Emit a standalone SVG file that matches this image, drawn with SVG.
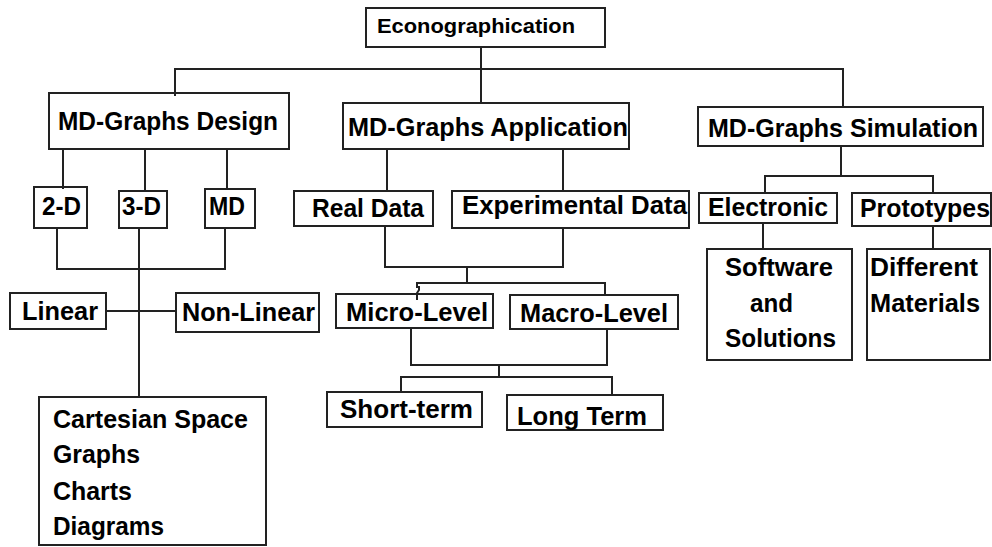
<svg xmlns="http://www.w3.org/2000/svg" width="992" height="547" viewBox="0 0 992 547">
<style>
rect{fill:#fff;stroke:#222;stroke-width:2}
.c line,.c path{stroke:#222;stroke-width:2;stroke-linecap:square;fill:none}
text{font-family:"Liberation Sans",Arial,sans-serif;font-weight:bold;font-size:25.5px;fill:#000}
.s{font-size:20.5px}
.m{font-size:26.5px}
</style>
<rect x="0" y="0" width="992" height="547" style="stroke:none"/>
<g id="econographication"><rect x="366" y="8" width="239" height="39"/><text class="s" x="377" y="33" textLength="198" lengthAdjust="spacingAndGlyphs">Econographication</text></g>
<g id="design"><rect x="49" y="93" width="240" height="56"/><text x="58" y="130" textLength="220" lengthAdjust="spacingAndGlyphs">MD-Graphs Design</text></g>
<g id="application"><rect x="343" y="103" width="286" height="46"/><text class="m" x="348" y="136" textLength="280" lengthAdjust="spacingAndGlyphs">MD-Graphs Application</text></g>
<g id="simulation"><rect x="698" y="107" width="285" height="39"/><text class="m" x="708" y="137" textLength="270" lengthAdjust="spacingAndGlyphs">MD-Graphs Simulation</text></g>
<g id="d2"><rect x="34" y="187" width="53" height="41"/><text x="42" y="215" textLength="39" lengthAdjust="spacingAndGlyphs">2-D</text></g>
<g id="d3"><rect x="119" y="191" width="48" height="37"/><text x="122" y="215" textLength="39" lengthAdjust="spacingAndGlyphs">3-D</text></g>
<g id="md"><rect x="205" y="189" width="50" height="39"/><text x="209" y="215" textLength="36" lengthAdjust="spacingAndGlyphs">MD</text></g>
<g id="realdata"><rect x="294" y="191" width="139" height="35"/><text x="312" y="217" textLength="112" lengthAdjust="spacingAndGlyphs">Real Data</text></g>
<g id="experimental"><rect x="452" y="191" width="237" height="37"/><text x="462" y="214" textLength="225" lengthAdjust="spacingAndGlyphs">Experimental Data</text></g>
<g id="electronic"><rect x="699" y="193" width="138" height="30"/><text x="708" y="216" textLength="120" lengthAdjust="spacingAndGlyphs">Electronic</text></g>
<g id="prototypes"><rect x="852" y="193" width="139" height="33"/><text x="860" y="217" textLength="130" lengthAdjust="spacingAndGlyphs">Prototypes</text></g>
<g id="software"><rect x="707" y="249" width="145" height="111"/><text x="725" y="276" textLength="108" lengthAdjust="spacingAndGlyphs">Software</text><text x="750" y="312" textLength="43" lengthAdjust="spacingAndGlyphs">and</text><text x="725" y="347" textLength="111" lengthAdjust="spacingAndGlyphs">Solutions</text></g>
<g id="materials"><rect x="867" y="249" width="123" height="111"/><text x="870" y="276" textLength="108" lengthAdjust="spacingAndGlyphs">Different</text><text x="870" y="312" textLength="110" lengthAdjust="spacingAndGlyphs">Materials</text></g>
<g id="linear"><rect x="10" y="293" width="96" height="36"/><text x="22" y="320" textLength="76" lengthAdjust="spacingAndGlyphs">Linear</text></g>
<g id="nonlinear"><rect x="176" y="293" width="143" height="39"/><text x="182" y="321" textLength="133" lengthAdjust="spacingAndGlyphs">Non-Linear</text></g>
<g id="micro"><rect x="336" y="294" width="157" height="34"/><text x="346" y="321" textLength="142" lengthAdjust="spacingAndGlyphs">Micro-Level</text></g>
<g id="macro"><rect x="510" y="295" width="168" height="34"/><text x="520" y="322" textLength="148" lengthAdjust="spacingAndGlyphs">Macro-Level</text></g>
<g id="shortterm"><rect x="327" y="392" width="155" height="35"/><text x="340" y="418" textLength="133" lengthAdjust="spacingAndGlyphs">Short-term</text></g>
<g id="longterm"><rect x="507" y="395" width="156" height="35"/><text x="517" y="425" textLength="130" lengthAdjust="spacingAndGlyphs">Long Term</text></g>
<g id="cartesian"><rect x="39" y="397" width="227" height="148"/><text x="53" y="428" textLength="195" lengthAdjust="spacingAndGlyphs">Cartesian Space</text><text x="53" y="463" textLength="87" lengthAdjust="spacingAndGlyphs">Graphs</text><text x="53" y="500" textLength="79" lengthAdjust="spacingAndGlyphs">Charts</text><text x="53" y="535" textLength="111" lengthAdjust="spacingAndGlyphs">Diagrams</text></g>
<g class="c" id="connectors">
<line x1="481" y1="48" x2="481" y2="102"/>
<line x1="175" y1="69" x2="843" y2="69"/>
<line x1="175" y1="69" x2="175" y2="95"/>
<line x1="843" y1="69" x2="843" y2="106"/>
<line x1="63" y1="150" x2="63" y2="188"/>
<line x1="145" y1="150" x2="145" y2="190"/>
<line x1="227" y1="150" x2="227" y2="188"/>
<line x1="57" y1="229" x2="57" y2="269"/>
<line x1="225" y1="229" x2="225" y2="269"/>
<line x1="57" y1="269" x2="225" y2="269"/>
<line x1="139" y1="229" x2="139" y2="397"/>
<line x1="107" y1="311" x2="175" y2="311"/>
<line x1="387" y1="150" x2="387" y2="190"/>
<line x1="563" y1="150" x2="563" y2="190"/>
<line x1="385" y1="227" x2="385" y2="267"/>
<line x1="563" y1="229" x2="563" y2="267"/>
<line x1="385" y1="267" x2="563" y2="267"/>
<line x1="467" y1="267" x2="467" y2="283"/>
<line x1="417" y1="283" x2="605" y2="283"/>
<path d="M417 283 V287 H419 V290 L417 293 V299"/>
<line x1="605" y1="283" x2="605" y2="294"/>
<line x1="411" y1="329" x2="411" y2="365"/>
<line x1="607" y1="330" x2="607" y2="365"/>
<line x1="411" y1="365" x2="607" y2="365"/>
<line x1="499" y1="365" x2="499" y2="377"/>
<line x1="401" y1="377" x2="612" y2="377"/>
<line x1="401" y1="377" x2="401" y2="391"/>
<line x1="612" y1="377" x2="612" y2="394"/>
<line x1="841" y1="147" x2="841" y2="176"/>
<line x1="765" y1="176" x2="933" y2="176"/>
<line x1="765" y1="176" x2="765" y2="192"/>
<line x1="933" y1="176" x2="933" y2="192"/>
<line x1="763" y1="224" x2="763" y2="248"/>
<line x1="933" y1="227" x2="933" y2="248"/>
</g>
</svg>
